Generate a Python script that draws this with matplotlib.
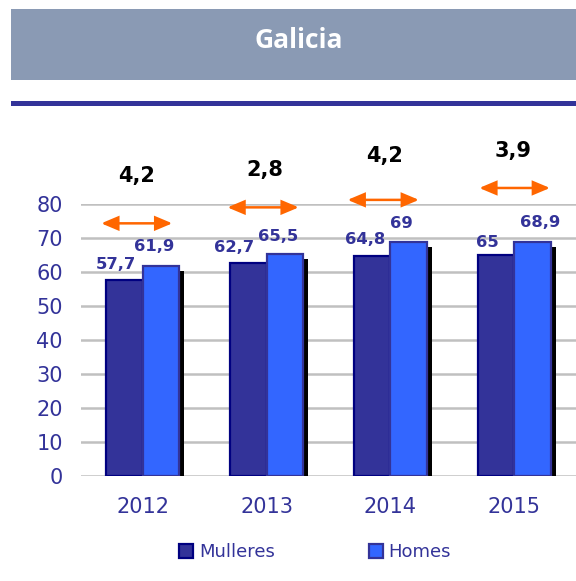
import matplotlib
matplotlib.use("Agg")
import matplotlib.pyplot as plt
from matplotlib.patches import Rectangle
import matplotlib.patheffects as pe
import numpy as np

# ---- data ----
years = ["2012", "2013", "2014", "2015"]
mulleres = [57.7, 62.7, 64.8, 65.0]
homes = [61.9, 65.5, 69.0, 68.9]
gaps = [4.2, 2.8, 4.2, 3.9]
yticks = [0, 10, 20, 30, 40, 50, 60, 70, 80]
series_names = ["Mulleres", "Homes"]
title = "Galicia"

# ---- layout (not data) ----
W, H = 576, 581
C_M_FACE, C_M_EDGE = "#333399", "#000080"
C_H_FACE, C_H_EDGE = "#3366FF", "#333399"
TXT = "#333399"
ORANGE = "#FF6600"

# value label offsets in pixels (dx, dy) relative to bar centre/top
off_m = [(-8.5, 11), (-14, 11.4), (-7, 12), (-9, 8.6)]
off_h = [(-7, 14.7), (-7, 13), (-7, 14), (7.7, 14.7)]
# arrows: left/right relative to category, y in data units
arrow_l = [-0.337, -0.317, -0.346, -0.282]
arrow_r = [0.238, 0.260, 0.231, 0.290]
arrow_y = [74.4, 79.1, 81.3, 84.8]
gap_dx = [-0.053, -0.015, -0.047, -0.006]
gap_y = [88.4, 90.0, 94.1, 95.7]

def fmt(v):
    return f"{v:g}".replace(".", ",")

fig = plt.figure(figsize=(W / 100, H / 100), dpi=100)

# header box
fig.patches.append(Rectangle((11 / W, 1 - 80 / H), 1, 71 / H, transform=fig.transFigure,
                             facecolor="#8A9AB4", edgecolor="none", zorder=0))
fig.text(299 / W, 1 - 47.7 / H, title, color="white", fontsize=19, fontweight="bold",
         family="Open Sans", ha="center", va="baseline")
# blue rule
fig.patches.append(Rectangle((11 / W, 1 - 106 / H), 1, 5 / H, transform=fig.transFigure,
                             facecolor="#333399", edgecolor="none", zorder=0))

ax = fig.add_axes([81 / W, 1 - 476.3 / H, (W - 81) / W, 272 / H])
x = np.arange(len(years))
bw = 0.294

shadow = [pe.SimplePatchShadow(offset=(3.6, -3.6), shadow_rgbFace="black", alpha=1.0), pe.Normal()]
bm = ax.bar(x - bw / 2, mulleres, bw, facecolor=C_M_FACE, edgecolor=C_M_EDGE, linewidth=1.6,
            zorder=3, label=series_names[0])
bh = ax.bar(x + bw / 2, homes, bw, facecolor=C_H_FACE, edgecolor=C_H_EDGE, linewidth=1.6,
            zorder=4, label=series_names[1])
for b in list(bm) + list(bh):
    b.set_path_effects(shadow)

for i in range(len(years)):
    ax.annotate(fmt(mulleres[i]), xy=(x[i] - bw / 2, mulleres[i]), xytext=off_m[i],
                textcoords="offset pixels", ha="center", va="baseline", color=TXT,
                fontsize=11.8, fontweight="bold", zorder=6, annotation_clip=False)
    ax.annotate(fmt(homes[i]), xy=(x[i] + bw / 2, homes[i]), xytext=off_h[i],
                textcoords="offset pixels", ha="center", va="baseline", color=TXT,
                fontsize=11.8, fontweight="bold", zorder=6, annotation_clip=False)
    ax.annotate("", xy=(x[i] + arrow_r[i], arrow_y[i]), xytext=(x[i] + arrow_l[i], arrow_y[i]),
                arrowprops=dict(arrowstyle="<|-|>,head_length=1.0,head_width=0.42",
                                mutation_scale=10, color=ORANGE, lw=1.8,
                                joinstyle="miter", shrinkA=0, shrinkB=0),
                annotation_clip=False, zorder=6)
    ax.text(x[i] + gap_dx[i], gap_y[i], fmt(gaps[i]), ha="center", va="center",
            fontsize=15, fontweight="bold", color="black", clip_on=False, zorder=6)

ax.set_xlim(-0.5, 3.5)
ax.set_ylim(0, 80)
ax.set_yticks(yticks)
ax.set_xticks(x)
ax.set_xticklabels(years)
ax.tick_params(axis="both", length=0, labelsize=15, labelcolor=TXT)
ax.tick_params(axis="y", pad=13)
ax.tick_params(axis="x", pad=15)
for s in ax.spines.values():
    s.set_visible(False)
ax.yaxis.grid(True, color="#C0C0C0", linewidth=1.8, zorder=0)
ax.set_axisbelow(True)

hm = Rectangle((0, 0), 1, 1, facecolor=C_M_FACE, edgecolor=C_M_EDGE, linewidth=1.6)
hh = Rectangle((0, 0), 1, 1, facecolor=C_H_FACE, edgecolor=C_H_EDGE, linewidth=1.6)
fig.legend([hm, hh], series_names, loc="center left", bbox_to_anchor=(179.3 / W, 1 - 552 / H),
           ncol=2, frameon=False, fontsize=13, labelcolor=TXT, handlelength=0.78,
           handleheight=0.82, handletextpad=0.3, columnspacing=5.2, borderpad=0,
           borderaxespad=0)

fig.savefig("out.png", dpi=100)
